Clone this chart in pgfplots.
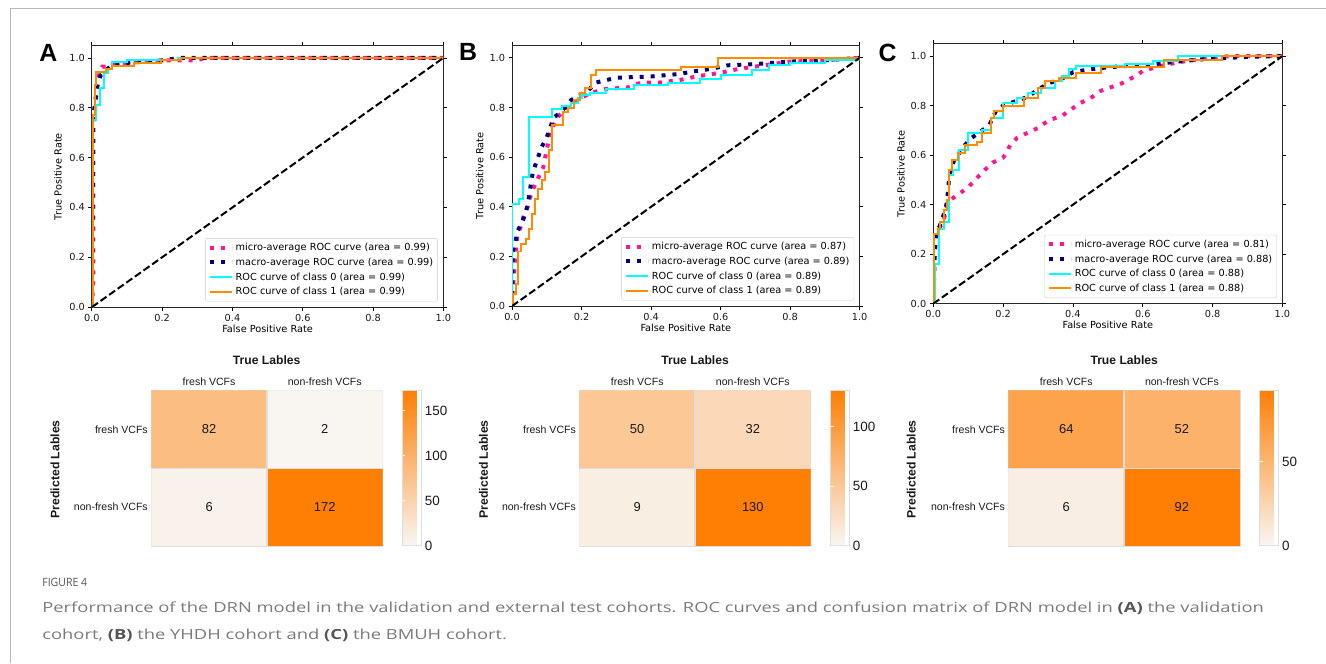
\documentclass[border=0pt]{standalone}
\usepackage{fontspec}
\setmainfont{DejaVu Sans}
\newfontfamily\arial{Liberation Sans}
\newfontfamily\capfont{Open Sans}
\usepackage{graphicx}
\usepackage{pgfplots}
\pgfplotsset{compat=1.18}

\definecolor{micro}{RGB}{255,20,147}
\definecolor{macro}{RGB}{0,0,128}
\definecolor{aqua}{RGB}{0,255,255}
\definecolor{dorange}{RGB}{255,140,0}
\definecolor{capgray}{RGB}{122,122,122}
\definecolor{capdark}{RGB}{85,85,85}
\definecolor{cellline}{RGB}{222,222,222}

\pgfplotsset{
  /pgf/number format/assume math mode=true,
  rocax/.style={
    scale only axis, anchor=south west,
    xmin=0, xmax=1, ymin=0, ymax=1.05,
    xtick={0,0.2,0.4,0.6,0.8,1}, ytick={0,0.2,0.4,0.6,0.8,1},
    tick align=outside, major tick length=3.5pt,
    tick style={black, line width=0.8pt},
    axis line style={black!85, line width=0.8pt},
    every tick label/.append style={font=\fontsize{9.8}{11}\selectfont, black!90},
    xticklabel style={/pgf/number format/fixed, /pgf/number format/fixed zerofill, /pgf/number format/precision=1},
    yticklabel style={/pgf/number format/fixed, /pgf/number format/fixed zerofill, /pgf/number format/precision=1},
    legend cell align=left,
    legend style={at={(1,0)}, anchor=south east, xshift=-5.5pt, yshift=5.7pt,
      draw=black!20, rounded corners=2pt, fill=white,
      font=\fontsize{9.8}{11}\selectfont, row sep=1.8pt, inner xsep=2.5pt, inner ysep=3pt},
    legend image code/.code={\draw[##1] (0pt,0pt) -- (22pt,0pt);},
  },
  microline/.style={micro, line width=4pt, dash pattern=on 4pt off 7pt},
  macroline/.style={macro, line width=4pt, dash pattern=on 4pt off 7pt},
  c0line/.style={aqua, line width=2pt},
  c1line/.style={dorange, line width=2pt},
  diagline/.style={black, line width=2pt, dash pattern=on 7.4pt off 3.2pt},
  cmax/.style={
    scale only axis, anchor=south west, width=232.5pt, height=156pt,
    xmin=-0.5, xmax=1.5, ymin=-0.5, ymax=1.5, y dir=reverse,
    xtick={0,1}, ytick={0,1},
    xticklabels={fresh VCFs, non-fresh VCFs},
    yticklabels={fresh VCFs, non-fresh VCFs},
    xticklabel pos=upper,
    xticklabel style={yshift=1.5pt},
    major tick length=0pt,
    every tick label/.append style={font=\arial\fontsize{10.6}{12}\selectfont, black!90},
    axis line style={cellline, line width=1.5pt},
    colormap={cmorange}{rgb255=(249,246,243) rgb255=(254,127,4)},
    point meta min=0,
    colorbar,
    colorbar shift/.style={xshift=20pt},
    colorbar style={scale only axis, width=19pt, height=156pt,
      at={(parent axis.north east)}, anchor=north west,
      axis line style={cellline, line width=0.8pt},
      tick align=inside, major tick length=3pt,
      ytick style={white, line width=0.8pt},
      yticklabel style={font=\arial\fontsize{13.5}{15}\selectfont, black!90}},
  },
  cellnum/.style={only marks, mark=*, mark size=0pt, mark options={draw=none, fill=none},
    nodes near coords, point meta=explicit symbolic,
    every node near coord/.style={font=\arial\fontsize{13}{15}\selectfont, black!90, anchor=center}},
}

\newlength\capw
\newcommand\capone{Performance of the DRN model in the validation and external test cohorts. ROC curves and confusion matrix of DRN model in \textcolor{capdark}{\textbf{(A)}} the validation}
\newcommand\captwo{cohort, \textcolor{capdark}{\textbf{(B)}} the YHDH cohort and \textcolor{capdark}{\textbf{(C)}} the BMUH cohort.}

\begin{document}
\settowidth\capw{\capfont\fontsize{14}{16}\selectfont\capone}
\pgfmathsetmacro\capsx{1228/(\capw/1pt)}
\begin{tikzpicture}
\path (0pt,0pt) rectangle (1326pt,666pt);
\draw[black!28, line width=1pt] (4pt,0pt) -- (4pt,657.7pt) -- (1326pt,657.7pt);

% ---------- ROC A ----------
\begin{axis}[rocax, at={(86pt,357.3pt)}, width=353.3pt, height=263pt]
\addplot[microline] coordinates {(0,0)(0.004,0.1)(0.004,0.72)(0.01,0.82)(0.015,0.87)(0.02,0.93)(0.03,0.965)(0.045,0.965)(0.06,0.975)(0.1,0.98)(0.2,0.99)(0.3,0.99)(0.32,1)(1,1)};
\addlegendentry{micro-average ROC curve (area = 0.99)}
\addplot[macroline] coordinates {(0,0)(0.004,0.76)(0.015,0.89)(0.025,0.93)(0.04,0.95)(0.06,0.975)(0.1,0.98)(0.2,0.99)(0.25,1)(1,1)};
\addlegendentry{macro-average ROC curve (area = 0.99)}
\addplot[c0line] coordinates {(0,0)(0,0.75)(0.012,0.75)(0.012,0.81)(0.024,0.81)(0.024,0.88)(0.035,0.88)(0.035,0.94)(0.047,0.94)(0.047,0.955)(0.057,0.955)(0.057,0.985)(0.1,0.985)(0.1,0.99)(0.245,0.99)(0.245,1)(1,1)};
\addlegendentry{ROC curve of class 0 (area = 0.99)}
\addplot[c1line] coordinates {(0,0)(0.003,0)(0.003,0.77)(0.008,0.77)(0.008,0.89)(0.012,0.89)(0.012,0.944)(0.04,0.944)(0.04,0.955)(0.057,0.955)(0.057,0.968)(0.12,0.968)(0.12,0.98)(0.198,0.98)(0.198,0.99)(0.254,0.99)(0.254,1)(1,1)};
\addlegendentry{ROC curve of class 1 (area = 0.99)}
\addplot[diagline, forget plot] coordinates {(0,0)(1,1)};
\end{axis}

% ---------- ROC B ----------
\begin{axis}[rocax, at={(508.3pt,358.3pt)}, width=349.4pt, height=262pt]
\addplot[microline] coordinates {(0,0)(0.003,0.08)(0.01,0.2)(0.015,0.28)(0.025,0.32)(0.035,0.37)(0.045,0.4)(0.05,0.43)(0.06,0.47)(0.07,0.5)(0.08,0.53)(0.09,0.56)(0.1,0.63)(0.11,0.7)(0.13,0.76)(0.16,0.8)(0.2,0.84)(0.23,0.86)(0.27,0.875)(0.33,0.88)(0.37,0.9)(0.42,0.9)(0.48,0.91)(0.53,0.925)(0.6,0.94)(0.65,0.955)(0.7,0.965)(0.75,0.975)(0.8,0.985)(0.9,0.99)(1,1)};
\addlegendentry{micro-average ROC curve (area = 0.87)}
\addplot[macroline] coordinates {(0,0)(0.002,0.22)(0.01,0.26)(0.015,0.3)(0.03,0.34)(0.04,0.38)(0.045,0.41)(0.05,0.45)(0.055,0.5)(0.06,0.54)(0.07,0.58)(0.085,0.64)(0.1,0.68)(0.11,0.72)(0.12,0.76)(0.14,0.78)(0.17,0.83)(0.22,0.87)(0.24,0.9)(0.3,0.92)(0.4,0.925)(0.48,0.935)(0.52,0.945)(0.57,0.955)(0.62,0.97)(0.7,0.975)(0.8,0.985)(0.9,0.99)(1,1)};
\addlegendentry{macro-average ROC curve (area = 0.89)}
\addplot[c0line] coordinates {(0,0)(0,0.41)(0.019,0.41)(0.019,0.43)(0.033,0.43)(0.033,0.52)(0.05,0.52)(0.05,0.76)(0.115,0.76)(0.115,0.795)(0.145,0.795)(0.145,0.805)(0.17,0.805)(0.17,0.82)(0.19,0.82)(0.19,0.84)(0.2,0.84)(0.2,0.85)(0.225,0.85)(0.225,0.86)(0.27,0.86)(0.27,0.875)(0.35,0.875)(0.35,0.89)(0.45,0.89)(0.45,0.9)(0.54,0.9)(0.54,0.915)(0.6,0.915)(0.6,0.93)(0.69,0.93)(0.69,0.95)(0.74,0.95)(0.74,0.97)(0.8,0.97)(0.8,0.98)(0.9,0.98)(0.9,0.99)(1,0.99)(1,1)};
\addlegendentry{ROC curve of class 0 (area = 0.89)}
\addplot[c1line] coordinates {(0,0)(0.004,0)(0.004,0.05)(0.012,0.05)(0.012,0.09)(0.018,0.09)(0.018,0.22)(0.026,0.22)(0.026,0.25)(0.04,0.25)(0.04,0.27)(0.048,0.27)(0.048,0.31)(0.057,0.31)(0.057,0.37)(0.067,0.37)(0.067,0.43)(0.076,0.43)(0.076,0.47)(0.086,0.47)(0.086,0.51)(0.095,0.51)(0.095,0.54)(0.105,0.54)(0.105,0.63)(0.116,0.63)(0.116,0.73)(0.148,0.73)(0.148,0.78)(0.162,0.78)(0.162,0.8)(0.178,0.8)(0.178,0.83)(0.196,0.83)(0.196,0.86)(0.21,0.86)(0.21,0.88)(0.228,0.88)(0.228,0.93)(0.243,0.93)(0.243,0.95)(0.487,0.95)(0.487,0.965)(0.592,0.965)(0.592,1)(1,1)};
\addlegendentry{ROC curve of class 1 (area = 0.89)}
\addplot[diagline, forget plot] coordinates {(0,0)(1,1)};
\end{axis}

% ---------- ROC C ----------
\begin{axis}[rocax, at={(931.7pt,360.7pt)}, width=351pt, height=261.3pt]
\addplot[microline] coordinates {(0,0)(0.002,0.17)(0.005,0.26)(0.01,0.3)(0.02,0.31)(0.03,0.34)(0.04,0.39)(0.05,0.42)(0.07,0.44)(0.1,0.47)(0.12,0.5)(0.14,0.53)(0.17,0.57)(0.2,0.59)(0.21,0.61)(0.22,0.64)(0.24,0.67)(0.27,0.69)(0.3,0.71)(0.33,0.74)(0.37,0.76)(0.39,0.78)(0.42,0.81)(0.45,0.83)(0.48,0.86)(0.5,0.87)(0.54,0.89)(0.58,0.92)(0.6,0.94)(0.65,0.96)(0.7,0.975)(0.75,0.985)(0.8,0.995)(0.85,1)(1,1)};
\addlegendentry{micro-average ROC curve (area = 0.81)}
\addplot[macroline] coordinates {(0,0)(0.005,0.22)(0.01,0.27)(0.015,0.3)(0.025,0.34)(0.035,0.38)(0.04,0.42)(0.045,0.5)(0.05,0.54)(0.06,0.58)(0.075,0.61)(0.09,0.64)(0.11,0.67)(0.14,0.7)(0.16,0.72)(0.18,0.78)(0.2,0.8)(0.23,0.815)(0.27,0.835)(0.3,0.865)(0.33,0.89)(0.37,0.91)(0.4,0.935)(0.44,0.945)(0.5,0.955)(0.55,0.96)(0.62,0.965)(0.68,0.975)(0.75,0.985)(0.8,0.99)(0.9,0.997)(1,1)};
\addlegendentry{macro-average ROC curve (area = 0.88)}
\addplot[c0line] coordinates {(0,0)(0.005,0)(0.005,0.16)(0.016,0.16)(0.016,0.3)(0.03,0.3)(0.03,0.33)(0.045,0.33)(0.045,0.52)(0.058,0.52)(0.058,0.54)(0.075,0.54)(0.075,0.62)(0.1,0.62)(0.1,0.69)(0.14,0.69)(0.14,0.7)(0.165,0.7)(0.165,0.75)(0.2,0.75)(0.2,0.81)(0.24,0.81)(0.24,0.83)(0.27,0.83)(0.27,0.85)(0.31,0.85)(0.31,0.87)(0.35,0.87)(0.35,0.9)(0.37,0.9)(0.37,0.92)(0.39,0.92)(0.39,0.95)(0.41,0.95)(0.41,0.96)(0.55,0.96)(0.55,0.97)(0.63,0.97)(0.63,0.98)(0.7,0.98)(0.7,1)(1,1)};
\addlegendentry{ROC curve of class 0 (area = 0.88)}
\addplot[c1line] coordinates {(0,0)(0.003,0)(0.003,0.28)(0.015,0.28)(0.015,0.3)(0.02,0.3)(0.02,0.33)(0.03,0.33)(0.03,0.38)(0.04,0.38)(0.04,0.42)(0.045,0.42)(0.045,0.54)(0.055,0.54)(0.055,0.58)(0.07,0.58)(0.07,0.61)(0.09,0.61)(0.09,0.64)(0.125,0.64)(0.125,0.655)(0.14,0.655)(0.14,0.69)(0.165,0.69)(0.165,0.75)(0.175,0.75)(0.175,0.78)(0.2,0.78)(0.2,0.8)(0.26,0.8)(0.26,0.83)(0.3,0.83)(0.3,0.87)(0.32,0.87)(0.32,0.9)(0.36,0.9)(0.36,0.91)(0.41,0.91)(0.41,0.93)(0.48,0.93)(0.48,0.955)(0.66,0.955)(0.66,0.985)(0.826,0.985)(0.826,1)(1,1)};
\addlegendentry{ROC curve of class 1 (area = 0.88)}
\addplot[diagline, forget plot] coordinates {(0,0)(1,1)};
\end{axis}

% ROC labels and panel letters
\node[anchor=base west, inner sep=0, font=\arial\bfseries\fontsize{25}{28}\selectfont] at (33pt,604.3pt) {A};
\node[anchor=base west, inner sep=0, font=\arial\bfseries\fontsize{25}{28}\selectfont] at (455pt,605pt) {B};
\node[anchor=base west, inner sep=0, font=\arial\bfseries\fontsize{25}{28}\selectfont] at (876.7pt,604.3pt) {C};
\foreach \xx/\yy in {262.6/332, 683/333, 1107.2/335.4}
  \node[anchor=base, inner sep=0, font=\fontsize{9.8}{11}\selectfont] at (\xx pt,\yy pt) {False Positive Rate};
\foreach \xx/\yy in {55.5/488.5, 479.5/489.3, 903/491.3}
  \node[anchor=base, rotate=90, inner sep=0, font=\fontsize{9.8}{11}\selectfont] at (\xx pt,\yy pt) {True Positive Rate};

% ---------- confusion matrices ----------
\begin{axis}[cmax, at={(145.7pt,117.3pt)}, point meta max=172, colorbar style={ytick={0,50,100,150}}]
\addplot[matrix plot*, mesh/cols=2, point meta=explicit] table[meta=c] {
x y c
0 0 82
1 0 2
0 1 6
1 1 172
};
\addplot[cellnum] table[meta=c] {
x y c
0 0 82
1 0 2
0 1 6
1 1 172
};
\draw[cellline, line width=1.5pt] (axis cs:0.5,-0.5) -- (axis cs:0.5,1.5) (axis cs:-0.5,0.5) -- (axis cs:1.5,0.5);
\end{axis}

\begin{axis}[cmax, at={(576pt,117.3pt)}, point meta max=130, colorbar style={ytick={0,50,100}}]
\addplot[matrix plot*, mesh/cols=2, point meta=explicit] table[meta=c] {
x y c
0 0 50
1 0 32
0 1 9
1 1 130
};
\addplot[cellnum] table[meta=c] {
x y c
0 0 50
1 0 32
0 1 9
1 1 130
};
\draw[cellline, line width=1.5pt] (axis cs:0.5,-0.5) -- (axis cs:0.5,1.5) (axis cs:-0.5,0.5) -- (axis cs:1.5,0.5);
\end{axis}

\begin{axis}[cmax, at={(1007.3pt,117.3pt)}, point meta max=92, colorbar style={ytick={0,50}}]
\addplot[matrix plot*, mesh/cols=2, point meta=explicit] table[meta=c] {
x y c
0 0 64
1 0 52
0 1 6
1 1 92
};
\addplot[cellnum] table[meta=c] {
x y c
0 0 64
1 0 52
0 1 6
1 1 92
};
\draw[cellline, line width=1.5pt] (axis cs:0.5,-0.5) -- (axis cs:0.5,1.5) (axis cs:-0.5,0.5) -- (axis cs:1.5,0.5);
\end{axis}

\foreach \xx in {261.7, 692.3, 1123.7}
  \node[anchor=base, inner sep=0, font=\arial\bfseries\fontsize{12.2}{14}\selectfont, black!90] at (\xx pt,300pt) {True Lables};
\foreach \xx in {53.3, 484, 914}
  \node[anchor=base, rotate=90, inner sep=0, font=\arial\bfseries\fontsize{12.3}{14}\selectfont, black!90] at (\xx pt,194.3pt) {Predicted Lables};

% ---------- caption ----------
\node[anchor=base west, inner sep=0, text=capdark] at (36pt,76pt) {\scalebox{0.92}[1]{\capfont\fontsize{11.5}{13}\selectfont FIGURE 4}};
\node[anchor=base west, inner sep=0, text=capgray] at (36pt,50pt) {\scalebox{\capsx}[1]{\capfont\fontsize{14}{16}\selectfont\capone}};
\node[anchor=base west, inner sep=0, text=capgray] at (36pt,23pt) {\scalebox{\capsx}[1]{\capfont\fontsize{14}{16}\selectfont\captwo}};
\end{tikzpicture}
\end{document}
